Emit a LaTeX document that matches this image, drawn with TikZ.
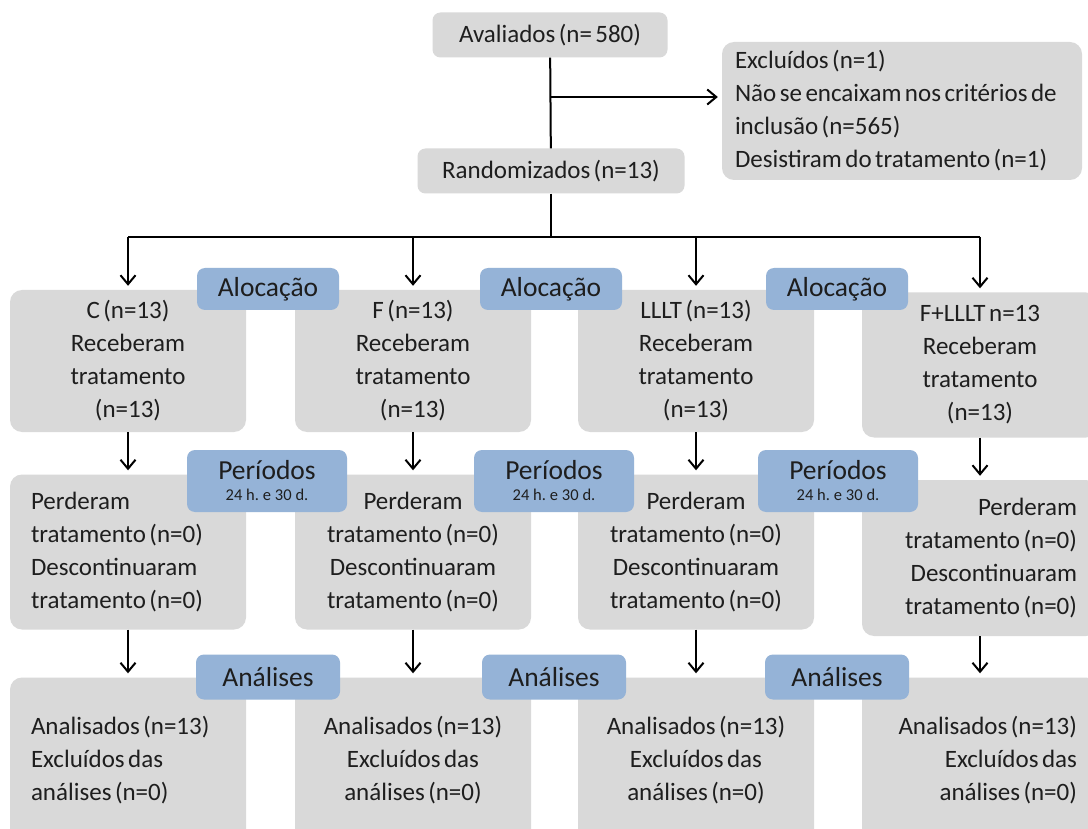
\documentclass[tikz,border=0pt]{standalone}
\usepackage{fontspec}
\setmainfont{Carlito}[WordSpace=0.6]
\usetikzlibrary{arrows.meta}
\definecolor{cinzaclaro}{RGB}{217,217,217}
\definecolor{azulaba}{RGB}{149,179,215}
\definecolor{textoescuro}{RGB}{30,30,30}
\tikzset{
  caixa/.style={
    rounded corners=12pt,
    fill=cinzaclaro,
    text=textoescuro,
    align=center,
    text width=194pt,
    inner xsep=21pt,
    inner ysep=4pt,
    font=\fontsize{25}{33}\selectfont,
    execute at begin node={\spaceskip=0.14em\xspaceskip=0.14em\relax}
  },
  topo/.style={
    rounded corners=8pt,
    fill=cinzaclaro,
    text=textoescuro,
    inner xsep=10pt,
    minimum height=45pt,
    font=\fontsize{25}{33}\selectfont
  },
  aba/.style={
    rounded corners=8pt,
    fill=azulaba,
    text=textoescuro,
    align=center,
    inner sep=0pt,
    font=\fontsize{27.5}{30}\selectfont,
    execute at begin node={\spaceskip=0.14em\xspaceskip=0.14em\relax}
  },
  linha/.style={
    line width=2pt,
    black
  },
  seta/.style={
    -{Straight Barb[length=9pt,width=15pt]},
    line width=2pt,
    shorten >=4pt,
    black
  }
}
\begin{document}
\begin{tikzpicture}[x=1pt,y=-1pt]
\useasboundingbox[fill=white] (0,0) rectangle (1088,829);
\clip (0,0) rectangle (1088,829);
% topo
\node[topo,minimum width=235pt] (aval) at (550,35) {Avaliados (n= 580)};
\node[topo,minimum width=267pt] (rand) at (551,171) {Randomizados (n=13)};
\node[caixa,text width=334pt,inner xsep=13pt,align=left,minimum height=138pt] (excl) at (902,111)
  {Excluídos (n=1)\\Não se encaixam nos critérios de\\inclusão (n=565)\\Desistiram do tratamento (n=1)};
% alocacao
\node[caixa,minimum height=142pt] (c1) at (128,361) {C (n=13)\\Receberam\\tratamento\\(n=13)};
\node[caixa,minimum height=142pt] (f1) at (413,361) {F (n=13)\\Receberam\\tratamento\\(n=13)};
\node[caixa,minimum height=142pt] (l1) at (696,361) {LLLT (n=13)\\Receberam\\tratamento\\(n=13)};
\node[caixa,minimum height=145pt] (fl1) at (980,365) {F+LLLT n=13\\Receberam\\tratamento\\(n=13)};
% periodos
\node[caixa,align=left,minimum height=155pt] (c2) at (128,552) {Perderam\\tratamento (n=0)\\Descontinuaram\\tratamento (n=0)};
\node[caixa,minimum height=155pt] (f2) at (413,552) {Perderam\\tratamento (n=0)\\Descontinuaram\\tratamento (n=0)};
\node[caixa,minimum height=155pt] (l2) at (696,552) {Perderam\\tratamento (n=0)\\Descontinuaram\\tratamento (n=0)};
\node[caixa,align=right,minimum height=156pt] (fl2) at (980,558) {Perderam\\tratamento (n=0)\\Descontinuaram\\tratamento (n=0)};
% analises
\node[caixa,align=left,minimum height=165pt] (c3) at (128,760) {Analisados (n=13)\\Excluídos das\\análises (n=0)};
\node[caixa,minimum height=165pt] (f3) at (413,760) {Analisados (n=13)\\Excluídos das\\análises (n=0)};
\node[caixa,minimum height=165pt] (l3) at (696,760) {Analisados (n=13)\\Excluídos das\\análises (n=0)};
\node[caixa,align=right,minimum height=165pt] (fl3) at (980,760) {Analisados (n=13)\\Excluídos das\\análises (n=0)};
% abas
\node[aba,minimum width=142pt,minimum height=42pt] (aloc1) at (268,289) {Alocação};
\node[aba,minimum width=142pt,minimum height=42pt] (aloc2) at (551,289) {Alocação};
\node[aba,minimum width=142pt,minimum height=42pt] (aloc3) at (837,289) {Alocação};
\node[aba,minimum width=160pt,minimum height=62pt] (per1) at (267,481) {Períodos\\[-9pt]{\fontsize{16.5}{18}\selectfont 24 h. e 30 d.}};
\node[aba,minimum width=160pt,minimum height=62pt] (per2) at (554,481) {Períodos\\[-9pt]{\fontsize{16.5}{18}\selectfont 24 h. e 30 d.}};
\node[aba,minimum width=160pt,minimum height=62pt] (per3) at (838,481) {Períodos\\[-9pt]{\fontsize{16.5}{18}\selectfont 24 h. e 30 d.}};
\node[aba,minimum width=144pt,minimum height=45pt] (anal1) at (268,677) {Análises};
\node[aba,minimum width=144pt,minimum height=45pt] (anal2) at (554,677) {Análises};
\node[aba,minimum width=144pt,minimum height=45pt] (anal3) at (837,677) {Análises};
% ligacoes
\coordinate (ramo) at (550,97);
\coordinate (nc) at (128,237);
\coordinate (nf) at (413,237);
\coordinate (nl) at (696,237);
\coordinate (nfl) at (980,237);
\draw[linha] (aval) -- (rand);
\draw[seta] (ramo) -- (ramo -| excl.west);
\draw[linha] (rand) -- (rand |- nc);
\draw[linha] (nc) -- (nfl);
\draw[seta] (nc) -- (c1);
\draw[seta] (nf) -- (f1);
\draw[seta] (nl) -- (l1);
\draw[seta] (nfl) -- (fl1);
\draw[seta] (c1) -- (c2);
\draw[seta] (f1) -- (f2);
\draw[seta] (l1) -- (l2);
\draw[seta] (fl1) -- (fl2);
\draw[seta] (c2) -- (c3);
\draw[seta] (f2) -- (f3);
\draw[seta] (l2) -- (l3);
\draw[seta] (fl2) -- (fl3);
\end{tikzpicture}
\end{document}
